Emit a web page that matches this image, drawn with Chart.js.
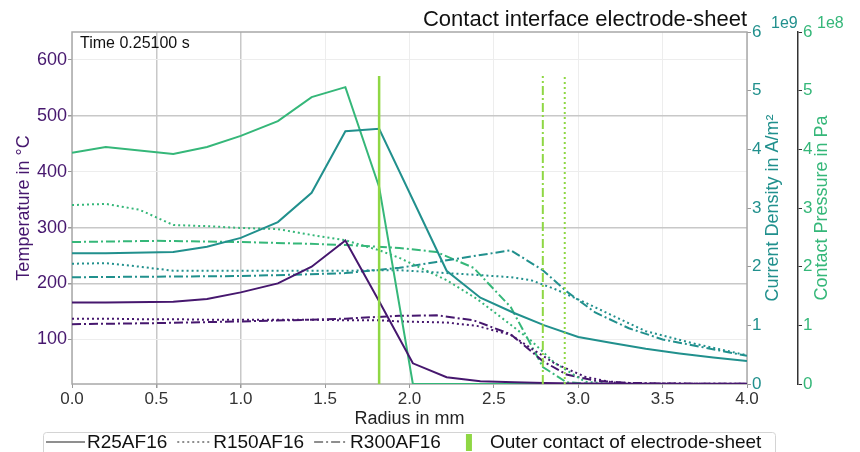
<!DOCTYPE html>
<html>
<head>
<meta charset="utf-8">
<script src="https://cdn.jsdelivr.net/npm/chart.js@4.4.1/dist/chart.umd.min.js"></script>
<style>
  html, body { margin: 0; padding: 0; background: #fff; }
</style>
</head>
<body>
<canvas id="contactChart" width="860" height="452"></canvas>
<script>
// Radius positions (mm) of each simulation run
const radiusR25  = [0, 0.2, 0.6, 0.8, 1.0, 1.22, 1.42, 1.62, 1.82, 2.02, 2.22, 2.42, 2.62, 2.8, 3.0, 3.2, 3.4, 3.6, 3.8, 4.0];
const radiusR150 = [0, 0.2, 0.4, 0.6, 0.8, 1.0, 1.22, 1.42, 1.62, 1.82, 1.94, 2.22, 2.4, 2.6, 2.72, 2.86, 3.04, 3.2, 3.4, 3.7, 4.0];
const radiusR300 = [0, 0.5, 1.0, 1.4, 1.62, 1.94, 2.16, 2.38, 2.6, 2.79, 2.93, 3.1, 3.3, 3.5, 3.75, 4.0];

// Temperature in °C
const tempR25  = [166, 166, 167, 172, 184, 200, 230, 277, 168, 57, 32, 25, 23, 22, 21, 21, 20.5, 20.5, 20.5, 20.5];
const tempR150 = [137, 137, 136, 136, 135, 135, 135, 135, 134, 134, 132, 130, 124, 108, 84, 57, 33, 23, 21, 20.5, 20.5];
const tempR300 = [127, 129, 132, 135, 137, 142, 143, 134, 109, 61, 37, 26, 22, 21, 20.5, 20.5];

// Current density in 1e9 A/m²
const currentR25  = [2.23, 2.23, 2.25, 2.34, 2.49, 2.76, 3.26, 4.31, 4.35, 3.14, 1.93, 1.47, 1.21, 1.0, 0.80, 0.70, 0.60, 0.52, 0.45, 0.39];
const currentR150 = [2.05, 2.06, 2.0, 1.93, 1.93, 1.93, 1.93, 1.93, 1.93, 1.94, 1.94, 1.89, 1.86, 1.82, 1.77, 1.62, 1.39, 1.17, 0.90, 0.68, 0.49];
const currentR300 = [1.82, 1.83, 1.84, 1.87, 1.89, 1.98, 2.08, 2.18, 2.28, 1.94, 1.58, 1.22, 0.95, 0.76, 0.62, 0.48];

// Contact pressure in 1e8 Pa
const pressureR25  = [3.94, 4.04, 3.92, 4.04, 4.23, 4.48, 4.89, 5.06, 3.36, 0, 0, 0, 0, 0, 0, 0, 0, 0, 0, 0];
const pressureR150 = [3.05, 3.07, 2.97, 2.71, 2.69, 2.66, 2.64, 2.54, 2.45, 2.28, 2.15, 1.77, 1.45, 1.01, 0.74, 0.36, 0.04, 0, 0, 0, 0];
const pressureR300 = [2.42, 2.44, 2.42, 2.39, 2.37, 2.32, 2.25, 1.98, 1.31, 0.29, 0.03, 0, 0, 0, 0, 0];

// Outer contact radius of electrode-sheet (mm)
const outerContact = [1.82, 2.92, 2.79];
const seriesNames = ['R25AF16', 'R150AF16', 'R300AF16'];

const radiusTicks = [0, 0.5, 1, 1.5, 2, 2.5, 3, 3.5, 4];
const tempTicks = [100, 200, 300, 400, 500, 600];

const FONT = "'Liberation Sans', Arial, sans-serif";
const PURPLE = '#46176e';
const TEAL = '#21908d';
const GREEN = '#35b779';
const LIME = '#8fd744';
const dashes = [[], [2, 3], [9, 3, 2, 3]];

Chart.defaults.font.family = FONT;

const pts = (xs, ys) => xs.map((x, i) => ({ x, y: ys[i] }));

const runs = [
  { r: radiusR25, t: tempR25, j: currentR25, p: pressureR25 },
  { r: radiusR150, t: tempR150, j: currentR150, p: pressureR150 },
  { r: radiusR300, t: tempR300, j: currentR300, p: pressureR300 }
];

const datasets = [];
// contact limit markers first so they sit on top
outerContact.forEach((c, i) => {
  datasets.push({
    label: 'Outer contact ' + seriesNames[i],
    data: [{ x: c, y: 0 }, { x: c, y: 5.25 }],
    yAxisID: 'yP',
    borderColor: LIME,
    borderWidth: i === 0 ? 2.5 : 2,
    borderDash: dashes[i]
  });
});
runs.forEach((run, i) => {
  datasets.push({ label: seriesNames[i] + ' T', data: pts(run.r, run.t), yAxisID: 'y', borderColor: PURPLE, borderDash: dashes[i] });
  datasets.push({ label: seriesNames[i] + ' J', data: pts(run.r, run.j), yAxisID: 'yJ', borderColor: TEAL, borderDash: dashes[i] });
  datasets.push({ label: seriesNames[i] + ' p', data: pts(run.r, run.p), yAxisID: 'yP', borderColor: GREEN, borderDash: dashes[i] });
});
datasets.forEach(d => {
  d.showLine = true;
  d.pointRadius = 0;
  d.borderWidth = d.borderWidth || 2;
  d.tension = 0;
});

const strongX = [0.5, 1];
const strongY = [200, 300, 500];

const decorations = {
  id: 'decorations',
  beforeDatasetsDraw(chart) {
    const { ctx, chartArea: a } = chart;
    ctx.save();
    ctx.strokeStyle = '#a8a8a8';
    ctx.lineWidth = 1.5;
    ctx.strokeRect(a.left, a.top, a.right - a.left, a.bottom - a.top);
    ctx.restore();
  },
  afterDraw(chart) {
    const { ctx, chartArea: a } = chart;
    const midY = (a.top + a.bottom) / 2;
    ctx.save();
    ctx.textBaseline = 'middle';

    // heading and time stamp
    ctx.fillStyle = '#111';
    ctx.font = '22px ' + FONT;
    ctx.textAlign = 'right';
    ctx.fillText('Contact interface electrode-sheet', a.right, 20);
    ctx.font = '16px ' + FONT;
    ctx.textAlign = 'left';
    ctx.fillText('Time 0.25100 s', a.left + 8, 44);

    // exponent markers of the right axes
    ctx.font = '16px ' + FONT;
    ctx.fillStyle = TEAL;
    ctx.fillText('1e9', 771, 24);
    ctx.fillStyle = GREEN;
    ctx.fillText('1e8', 817, 24);

    // right axis titles, reading upwards
    ctx.font = '18px ' + FONT;
    ctx.textAlign = 'center';
    [['Current Density in A/m²', 773, TEAL], ['Contact Pressure in Pa', 822, GREEN]].forEach(([txt, x, col]) => {
      ctx.save();
      ctx.translate(x, midY);
      ctx.rotate(-Math.PI / 2);
      ctx.fillStyle = col;
      ctx.fillText(txt, 0, 0);
      ctx.restore();
    });

    // legend
    const ly = 442;
    ctx.strokeStyle = '#d4d4d4';
    ctx.lineWidth = 1;
    ctx.beginPath();
    ctx.roundRect(43.5, 432.5, 732, 30, 3);
    ctx.stroke();
    ctx.font = '19px ' + FONT;
    ctx.textAlign = 'left';
    ctx.fillStyle = '#111';
    let x = 46;
    seriesNames.forEach((name, i) => {
      const len = i === 0 ? 39 : 34;
      ctx.save();
      ctx.strokeStyle = '#6a6a6a';
      ctx.lineWidth = 1.5;
      ctx.setLineDash(dashes[i]);
      ctx.beginPath();
      ctx.moveTo(x, ly);
      ctx.lineTo(x + len, ly);
      ctx.stroke();
      ctx.restore();
      x += len + 2;
      ctx.fillText(name, x, ly + 1);
      x += ctx.measureText(name).width + 10;
    });
    x += 15;
    ctx.fillStyle = LIME;
    ctx.fillRect(x, ly - 8, 6, 17);
    x += 24;
    ctx.fillStyle = '#111';
    ctx.fillText('Outer contact of electrode-sheet', x, ly + 1);
    ctx.restore();
  }
};

new Chart(document.getElementById('contactChart'), {
  type: 'scatter',
  data: { datasets },
  plugins: [decorations],
  options: {
    responsive: false,
    animation: false,
    devicePixelRatio: 1,
    layout: { padding: { top: 32, right: 18, bottom: 22, left: 0 } },
    plugins: {
      legend: { display: false },
      tooltip: { enabled: false }
    },
    scales: {
      x: {
        type: 'linear',
        min: 0,
        max: 4,
        afterBuildTicks: s => { s.ticks = radiusTicks.map(v => ({ value: v })); },
        afterFit: s => { s.height = 46; },
        ticks: { color: '#333', font: { size: 17 }, padding: 1, maxRotation: 0, callback: v => v.toFixed(1) },
        grid: {
          color: c => strongX.includes(c.tick.value) ? '#c8c8c8' : '#ededed',
          lineWidth: c => strongX.includes(c.tick.value) ? 1.5 : 1,
          tickLength: 4,
          tickColor: '#999'
        },
        border: { display: false },
        title: { display: true, text: 'Radius in mm', color: '#222', font: { size: 18 }, padding: { top: 0, bottom: 0 } }
      },
      y: {
        position: 'left',
        min: 20,
        max: 650,
        afterBuildTicks: s => { s.ticks = tempTicks.map(v => ({ value: v })); },
        afterFit: s => { s.width = 72; },
        ticks: { color: PURPLE, font: { size: 18 }, padding: 1 },
        grid: {
          color: c => strongY.includes(c.tick.value) ? '#c8c8c8' : '#ededed',
          lineWidth: c => strongY.includes(c.tick.value) ? 1.5 : 1,
          tickLength: 4,
          tickColor: '#999'
        },
        border: { display: false },
        title: { display: true, text: 'Temperature in °C', color: PURPLE, font: { size: 18 }, padding: { top: 13, bottom: 0 } }
      },
      yJ: {
        position: 'right',
        weight: 0,
        min: 0,
        max: 6,
        afterFit: s => { s.width = 51; },
        ticks: { stepSize: 1, color: TEAL, font: { size: 17 }, padding: 1 },
        grid: { drawOnChartArea: false, tickLength: 4, tickColor: '#999' },
        border: { display: false }
      },
      yP: {
        position: 'right',
        weight: 1,
        min: 0,
        max: 6,
        afterFit: s => { s.width = 44; },
        ticks: { stepSize: 1, color: GREEN, font: { size: 17 }, padding: 1 },
        grid: { drawOnChartArea: false, tickLength: 4, tickColor: '#333' },
        border: { color: '#333', width: 1.5 }
      }
    }
  }
});
</script>
</body>
</html>
